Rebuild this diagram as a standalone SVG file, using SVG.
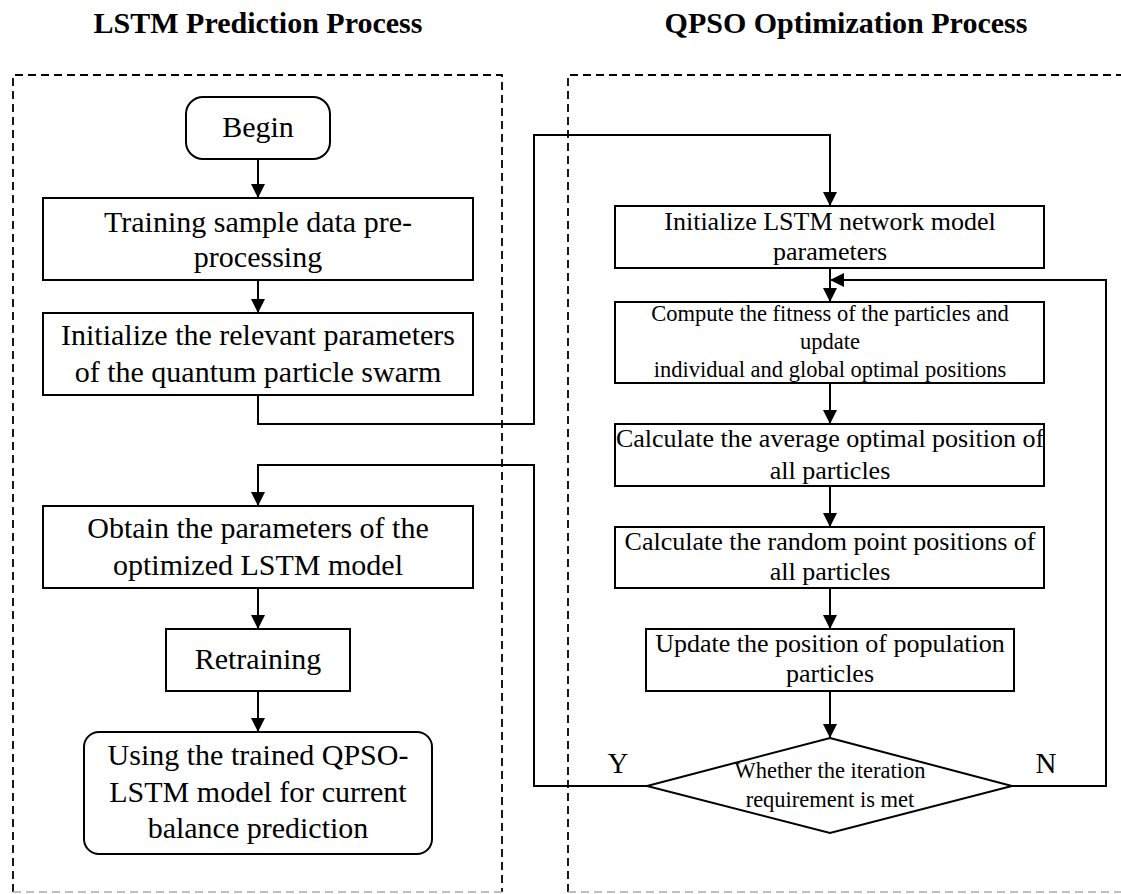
<svg xmlns="http://www.w3.org/2000/svg" width="1121" height="894" viewBox="0 0 1121 894">
<defs>
<style>
.t{font-family:"Liberation Serif","Times New Roman",serif;fill:#000;text-anchor:middle}
.h{font-weight:bold;font-size:30px}
.l{font-size:30px}
.r{font-size:26px}
.s{font-size:22.5px}
.box{fill:#fff;stroke:#000;stroke-width:2}
.c{fill:none;stroke:#000;stroke-width:2}
.d{fill:none;stroke:#000;stroke-width:1.8;stroke-dasharray:8 5}
.dg{fill:none;stroke:#aaa;stroke-width:1.6;stroke-dasharray:8 5}
</style>
<marker id="ah" markerUnits="userSpaceOnUse" markerWidth="14" markerHeight="14" refX="14" refY="7" orient="auto">
<path d="M0,0 L14,7 L0,14 z" fill="#000"/>
</marker>
</defs>
<rect width="1121" height="894" fill="#fff"/>

<g id="headings">
<text class="t h" x="258" y="33">LSTM Prediction Process</text>
<text class="t h" x="846" y="33">QPSO Optimization Process</text>
</g>

<g id="frames">
<path class="d" d="M13,892 V75 H502 V892"/>
<path class="dg" d="M13,892 H502"/>
<path class="d" d="M568,892 V75 H1121"/>
<path class="dg" d="M568,892 H1121"/>
</g>

<g id="connectors">
<path class="c" d="M258,159 V198" marker-end="url(#ah)"/>
<path class="c" d="M258,280 V313" marker-end="url(#ah)"/>
<path class="c" d="M258,395 V424 H534 V135 H830 V206" marker-end="url(#ah)"/>
<path class="c" d="M830,268 V302" marker-end="url(#ah)"/>
<path class="c" d="M830,383 V424" marker-end="url(#ah)"/>
<path class="c" d="M830,486 V527" marker-end="url(#ah)"/>
<path class="c" d="M830,588 V629" marker-end="url(#ah)"/>
<path class="c" d="M830,691 V738" marker-end="url(#ah)"/>
<path class="c" d="M1012,786 H1106 V280 H830" marker-end="url(#ah)"/>
<path class="c" d="M647,786 H534 V465 H258 V506" marker-end="url(#ah)"/>
<path class="c" d="M258,588 V629" marker-end="url(#ah)"/>
<path class="c" d="M258,691 V732" marker-end="url(#ah)"/>
<text class="t" x="618" y="773" font-size="29">Y</text>
<text class="t" x="1046" y="773" font-size="29">N</text>
</g>

<g id="begin">
<rect class="box" x="186" y="97" width="144" height="62" rx="17"/>
<text class="t l" x="258" y="137">Begin</text>
</g>

<g id="preprocess">
<rect class="box" x="43" y="198" width="430" height="82"/>
<text class="t l" x="258" y="232">Training sample data pre-</text>
<text class="t l" x="258" y="267">processing</text>
</g>

<g id="init-qps">
<rect class="box" x="43" y="313" width="430" height="82"/>
<text class="t l" x="258" y="345">Initialize the relevant parameters</text>
<text class="t l" x="258" y="382">of the quantum particle swarm</text>
</g>

<g id="obtain">
<rect class="box" x="43" y="506" width="430" height="82"/>
<text class="t l" x="258" y="538">Obtain the parameters of the</text>
<text class="t l" x="258" y="575">optimized LSTM model</text>
</g>

<g id="retraining">
<rect class="box" x="166" y="629" width="184" height="62"/>
<text class="t l" x="258" y="669">Retraining</text>
</g>

<g id="using">
<rect class="box" x="84" y="732" width="348" height="122" rx="15"/>
<text class="t l" x="258" y="765">Using the trained QPSO-</text>
<text class="t l" x="258" y="802">LSTM model for current</text>
<text class="t l" x="258" y="838">balance prediction</text>
</g>

<g id="init-lstm">
<rect class="box" x="615" y="206" width="429" height="62"/>
<text class="t r" x="830" y="230">Initialize LSTM network model</text>
<text class="t r" x="830" y="260">parameters</text>
</g>

<g id="fitness">
<rect class="box" x="615" y="302" width="429" height="81"/>
<text class="t s" x="830" y="321">Compute the fitness of the particles and</text>
<text class="t s" x="830" y="349">update</text>
<text class="t s" x="830" y="377">individual and global optimal positions</text>
</g>

<g id="avg-pos">
<rect class="box" x="615" y="424" width="429" height="62"/>
<text class="t r" x="830" y="447">Calculate the average optimal position of</text>
<text class="t r" x="830" y="479">all particles</text>
</g>

<g id="random-pos">
<rect class="box" x="615" y="527" width="429" height="61"/>
<text class="t r" x="830" y="550">Calculate the random point positions of</text>
<text class="t r" x="830" y="580">all particles</text>
</g>

<g id="update">
<rect class="box" x="646" y="629" width="368" height="62"/>
<text class="t r" x="830" y="652">Update the position of population</text>
<text class="t r" x="830" y="682">particles</text>
</g>

<g id="decision">
<polygon class="box" points="830,738 1012,786 830,833 647,786"/>
<text class="t s" x="830" y="778">Whether the iteration</text>
<text class="t s" x="830" y="807">requirement is met</text>
</g>
</svg>
